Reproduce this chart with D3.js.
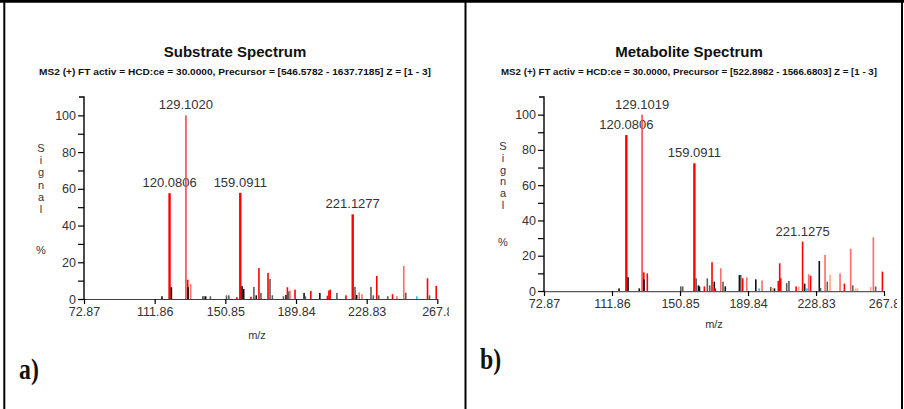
<!DOCTYPE html>
<html>
<head>
<meta charset="utf-8">
<script src="https://cdn.jsdelivr.net/npm/d3@7"></script>
<style>
  html, body { margin: 0; padding: 0; background: #fff; }
  svg { display: block; }
</style>
</head>
<body>
<svg id="chart" width="904" height="409" font-family="Arial, 'Liberation Sans', sans-serif"></svg>
<script>
// m/z axis ticks shared by both spectra
const mzTicks = [72.87, 111.86, 150.85, 189.84, 228.83, 267.8];
const mzTickLabels = ["72.87", "111.86", "150.85", "189.84", "228.83", "267.8"];
const signalTicks = [0, 10, 20, 30, 40, 50, 60, 70, 80, 90, 100];
const signalTickLabels = ["0", "", "20", "", "40", "", "60", "", "80", "", "100"];

// Peak classes: R matched, M matched (main), L light, S faint, K unmatched, G grey, C cyan
// Substrate spectrum peaks
const substrateMz = [115.9, 120.0806, 121.08, 129.1020, 130.10, 130.30, 131.7, 138.4, 139.1, 140.0,
  142.6, 151.5, 152.8, 157.2, 159.0911, 160.09, 161.0, 164.96, 166.6, 167.9,
  169.4, 170.5, 174.4, 175.5, 176.8, 182.9, 184.3, 185.1, 185.5, 186.0,
  186.5, 189.3, 194.3, 195.0, 198.0, 203.0, 207.2, 208.0, 208.7, 212.4,
  217.4, 221.1277, 222.4, 223.3, 224.7, 226.2, 231.2, 232.5, 234.4, 235.5,
  240.5, 243.1, 245.5, 249.3, 250.4, 256.5, 262.4, 263.5, 267.2];
const substrateSignal = [1.5, 57.6, 6.4, 100, 10.5, 6.5, 8.0, 1.5, 1.5, 1.5,
  1.5, 2, 2, 1, 57.8, 7, 5.5, 1.2, 6.6, 2,
  16.8, 3.3, 14.2, 10.9, 2, 1.5, 2.2, 6.4, 4, 4,
  4.6, 5.1, 3.3, 1.5, 4.4, 3.3, 1.8, 4.6, 5.1, 3.3,
  2, 46.1, 6.6, 2.2, 3.6, 2.6, 6.6, 2, 12.6, 2,
  1.5, 2.6, 1.5, 18, 3.5, 1.5, 11.3, 2, 7.1];
const substrateClass = ["K", "R", "K", "M", "R", "K", "L", "G", "G", "K",
  "G", "G", "G", "R", "R", "K", "K", "R", "G", "K",
  "R", "G", "R", "G", "G", "G", "K", "R", "G", "G",
  "L", "R", "K", "G", "R", "K", "R", "R", "R", "G",
  "R", "R", "G", "K", "L", "L", "G", "G", "R", "G",
  "G", "R", "L", "L", "G", "C", "R", "G", "R"];
const substrateLabels = ["120.0806", "129.1020", "159.0911", "221.1277"];

// Metabolite spectrum peaks
const metaboliteMz = [115.9, 120.0806, 121.08, 127.5, 129.1019, 130.10, 130.2, 132.1, 151.3, 152.4,
  159.0911, 160.1, 161.4, 162.0, 164.8, 166.5, 167.9, 169.2, 170.5, 171.0,
  174.2, 175.5, 176.8, 184.9, 185.7, 186.8, 189.1, 194.3, 196.2, 197.9,
  202.9, 203.8, 205.0, 207.2, 208.0, 208.6, 212.0, 213.3, 217.4, 218.9,
  221.1275, 222.3, 223.6, 224.6, 225.7, 230.7, 231.4, 234.0, 235.3, 236.9,
  242.6, 245.1, 248.7, 249.9, 251.5, 252.6, 260.2, 261.7, 263.0, 266.9];
const metaboliteSignal = [1.5, 88.4, 7.8, 1.5, 100, 10.6, 6.6, 10, 2.6, 2.6,
  72.4, 7.2, 3.2, 2.6, 2.6, 7.2, 3.2, 16.3, 5.3, 1.5,
  12.9, 5.3, 2.6, 9.1, 9.1, 7.2, 7.8, 6.6, 1.5, 5.9,
  2.3, 1.7, 1.5, 5.7, 15.7, 7.2, 4.5, 5.7, 2.6, 2.6,
  28, 4.2, 1.5, 9.5, 8.7, 17, 1.7, 20.5, 5.3, 9.1,
  10, 4.2, 23.9, 3.2, 1.5, 1.5, 2.3, 30.5, 2.6, 11];
const metaboliteClass = ["K", "R", "K", "K", "M", "R", "K", "R", "G", "G",
  "R", "G", "K", "K", "R", "G", "G", "R", "K", "R",
  "L", "G", "K", "K", "G", "R", "L", "K", "C", "L",
  "G", "S", "K", "R", "R", "R", "G", "G", "R", "S",
  "R", "K", "C", "L", "R", "K", "G", "L", "G", "S",
  "L", "R", "L", "G", "S", "S", "S", "L", "G", "R"];
const metaboliteLabels = ["120.0806", "129.1019", "159.0911", "221.1275"];

const peakColor = d3.scaleOrdinal()
  .domain(["R", "M", "L", "S", "K", "G", "C"])
  .range(["#ff0000", "#ff4848", "#ff6a6a", "#ffaa8a", "#111111", "#5e5e5e", "#20c8dc"]);

const svg = d3.select("#chart");

// Frame around the two panels
const frame = svg.append("g").attr("stroke", "#000").attr("fill", "none");
frame.append("line").attr("x1", 0).attr("x2", 904).attr("y1", 1.3).attr("y2", 1.3).attr("stroke-width", 3);
frame.append("line").attr("x1", 4.3).attr("x2", 4.3).attr("y1", 0).attr("y2", 409).attr("stroke-width", 2);
frame.append("line").attr("x1", 465.5).attr("x2", 465.5).attr("y1", 0).attr("y2", 409).attr("stroke-width", 2);
frame.append("line").attr("x1", 902).attr("x2", 902).attr("y1", 0).attr("y2", 409).attr("stroke-width", 2);

const panels = [
  {
    id: "a", title: "Substrate Spectrum",
    subtitle: "MS2 (+) FT activ = HCD:ce = 30.0000, Precursor = [546.5782 - 1637.7185] Z = [1 - 3]",
    mz: substrateMz, signal: substrateSignal, cls: substrateClass, labels: substrateLabels,
    x0: 84, x1: 437.3, yTop: 97, yBase: 299, clipRight: 449,
    titleX: 235, subW: 392, axisColor: "#000", baseWidth: 1.6,
    yLabelX: 41, yLabelY: 152, yStep: 12.2, pctY: 254, mzLabelY: 339, mzLabelX: 257,
    tag: "a)", tagX: 19, tagY: 379
  },
  {
    id: "b", title: "Metabolite Spectrum",
    subtitle: "MS2 (+) FT activ = HCD:ce = 30.0000, Precursor = [522.8982 - 1566.6803] Z = [1 - 3]",
    mz: metaboliteMz, signal: metaboliteSignal, cls: metaboliteClass, labels: metaboliteLabels,
    x0: 544, x1: 884, yTop: 97, yBase: 291, clipRight: 897,
    titleX: 689, subW: 376, axisColor: "#5a5a5a", baseWidth: 2.4,
    yLabelX: 503, yLabelY: 150, yStep: 11.8, pctY: 246, mzLabelY: 328, mzLabelX: 714,
    tag: "b)", tagX: 480, tagY: 369
  }
];

panels.forEach((p, i) => {
  const g = svg.append("g");

  const clipId = "clip-" + p.id;
  svg.append("clipPath").attr("id", clipId)
    .append("rect").attr("x", p.x0 - 80).attr("y", 0).attr("width", p.clipRight - p.x0 + 80).attr("height", 409);

  const x = d3.scaleLinear().domain([72.87, 267.8]).range([p.x0, p.x1]);
  const y = d3.scaleLinear().domain([0, 110]).range([p.yBase, p.yTop]);

  // Titles
  g.append("text").attr("x", p.titleX).attr("y", 57).attr("text-anchor", "middle")
    .attr("font-size", 15).attr("font-weight", "bold").attr("fill", "#111").text(p.title);
  g.append("text").attr("x", p.titleX).attr("y", 75).attr("text-anchor", "middle")
    .attr("font-size", 9).attr("font-weight", "bold").attr("fill", "#111")
    .attr("textLength", p.subW).attr("lengthAdjust", "spacingAndGlyphs").text(p.subtitle);

  // Y axis
  const yAxis = d3.axisLeft(y).tickValues(signalTicks).tickSize(6).tickPadding(2)
    .tickFormat((d, k) => signalTickLabels[k]);
  const ya = g.append("g").attr("transform", `translate(${p.x0},0)`).call(yAxis);
  ya.attr("font-family", null);
  ya.select(".domain").attr("d", `M-5,${p.yTop}H0V${p.yBase}`).attr("stroke", "#000").attr("stroke-width", 1.4);
  ya.selectAll(".tick line").attr("stroke", "#000").attr("stroke-width", 1.2);
  ya.selectAll(".tick text").attr("font-size", 12.5).attr("fill", "#333");

  // Y axis title, stacked letters
  const letters = ["S", "i", "g", "n", "a", "l"];
  g.append("g").selectAll("text").data(letters).join("text")
    .attr("x", p.yLabelX).attr("y", (d, k) => p.yLabelY + k * p.yStep)
    .attr("text-anchor", "middle").attr("font-size", 11).attr("fill", "#334").text(d => d);
  g.append("text").attr("x", p.yLabelX).attr("y", p.pctY).attr("text-anchor", "middle")
    .attr("font-size", 11).attr("fill", "#334").text("%");

  // Peak labels (drawn under the bars)
  const labelSel = g.append("g");
  p.labels.forEach(lbl => {
    const m = +lbl;
    const k = p.mz.indexOf(m);
    labelSel.append("text")
      .attr("x", x(m)).attr("y", y(p.signal[k]) - 6)
      .attr("text-anchor", "middle").attr("font-size", 13).attr("fill", "#333").text(lbl);
  });

  // Peaks
  const peaks = p.mz.map((m, k) => ({ m, v: p.signal[k], c: p.cls[k] }));
  g.append("g").selectAll("rect").data(peaks).join("rect")
    .attr("x", d => x(d.m) - (d.v > 40 && d.c === "R" ? 1.2 : 0.8))
    .attr("width", d => (d.v > 40 && d.c === "R" ? 2.4 : 1.6))
    .attr("y", d => y(d.v))
    .attr("height", d => y(0) - y(d.v))
    .attr("fill", d => peakColor(d.c));

  // X axis
  const xAxis = d3.axisBottom(x).tickValues(mzTicks).tickSize(5).tickPadding(3)
    .tickFormat((d, k) => mzTickLabels[k]);
  const xa = g.append("g").attr("transform", `translate(0,${p.yBase})`).attr("clip-path", `url(#${clipId})`).call(xAxis);
  xa.attr("font-family", null);
  xa.select(".domain").attr("d", `M${p.x0},0H${p.x1}`).attr("stroke", p.axisColor).attr("stroke-width", p.baseWidth);
  xa.selectAll(".tick line").attr("stroke", "#000").attr("stroke-width", 1.2);
  xa.selectAll(".tick text").attr("font-size", 12.5).attr("fill", "#333");

  // X axis title
  g.append("text").attr("x", p.mzLabelX).attr("y", p.mzLabelY).attr("text-anchor", "middle")
    .attr("font-size", 11).attr("fill", "#333").text("m/z");

  // Panel tag in a condensed bold serif
  g.append("text")
    .attr("transform", `translate(${p.tagX},${p.tagY}) scale(0.82,1)`)
    .attr("font-family", "'Liberation Serif', 'DejaVu Serif', serif")
    .attr("font-size", 29).attr("font-weight", "bold").attr("fill", "#111").text(p.tag);
});
</script>
</body>
</html>
